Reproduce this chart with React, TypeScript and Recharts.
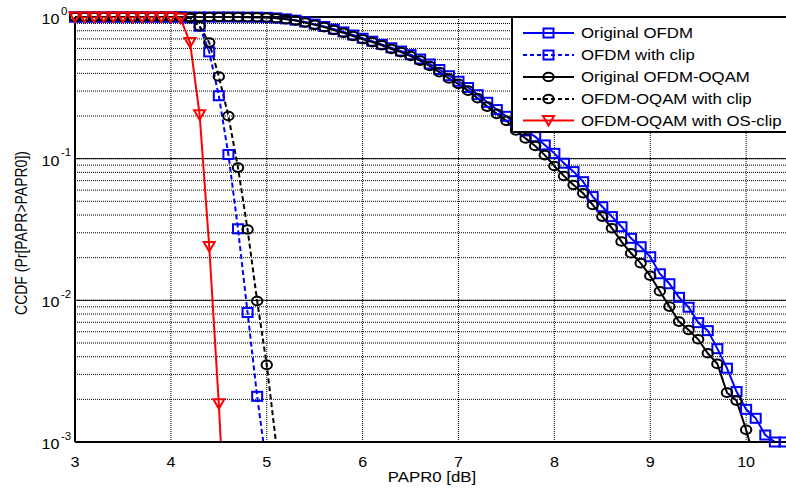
import React from 'react';
import { LineChart, Line, XAxis, YAxis, CartesianGrid, ReferenceLine } from 'recharts';

// PAPR0 grid in dB (0.1 dB steps)
const paprDb = [
  3.0, 3.1, 3.2, 3.3, 3.4, 3.5, 3.6, 3.7, 3.8, 3.9,
  4.0, 4.1, 4.2, 4.3, 4.4, 4.5, 4.6, 4.7, 4.8, 4.9,
  5.0, 5.1, 5.2, 5.3, 5.4, 5.5, 5.6, 5.7, 5.8, 5.9,
  6.0, 6.1, 6.2, 6.3, 6.4, 6.5, 6.6, 6.7, 6.8, 6.9,
  7.0, 7.1, 7.2, 7.3, 7.4, 7.5, 7.6, 7.7, 7.8, 7.9,
  8.0, 8.1, 8.2, 8.3, 8.4, 8.5, 8.6, 8.7, 8.8, 8.9,
  9.0, 9.1, 9.2, 9.3, 9.4, 9.5, 9.6, 9.7, 9.8, 9.9,
  10.0, 10.1, 10.2, 10.3, 10.4,
];

const originalOfdm = [
  1, 1, 1, 1, 1, 1, 1, 1, 1, 1,
  1, 1, 1, 1, 1, 1, 1, 0.999, 0.998, 0.997,
  0.994, 0.985, 0.97, 0.95, 0.922, 0.89, 0.857, 0.82, 0.785, 0.746,
  0.708, 0.675, 0.641, 0.606, 0.575, 0.542, 0.505, 0.466, 0.426, 0.385,
  0.352, 0.318, 0.283, 0.25, 0.222, 0.199, 0.174, 0.157, 0.143, 0.125,
  0.109, 0.0929, 0.081, 0.0688, 0.054, 0.0458, 0.039, 0.0331, 0.0274, 0.0239,
  0.0203, 0.0154, 0.0131, 0.0105, 0.00894, 0.00696, 0.00611, 0.00456, 0.00332, 0.00227,
  0.0017, 0.00147, 0.00112, 0.001, 0.001,
];

const ofdmClip = [
  1, 1, 1, 1, 1, 1, 1, 1, 1, 1,
  1, 1, 0.985, 0.86, 0.567, 0.278, 0.107, 0.032, 0.0082, 0.0021,
  0.00066,
];

const originalOqam = [
  1, 1, 1, 1, 1, 1, 1, 1, 1, 1,
  1, 1, 1, 1, 1, 1, 0.999, 0.998, 0.997, 0.995,
  0.992, 0.98, 0.965, 0.945, 0.915, 0.88, 0.848, 0.81, 0.775, 0.735,
  0.697, 0.665, 0.632, 0.595, 0.565, 0.53, 0.492, 0.451, 0.408, 0.368,
  0.337, 0.302, 0.267, 0.233, 0.207, 0.185, 0.158, 0.139, 0.123, 0.106,
  0.0888, 0.0755, 0.0652, 0.057, 0.0471, 0.039, 0.0323, 0.026, 0.0215, 0.0183,
  0.0149, 0.0116, 0.00903, 0.00708, 0.00618, 0.00531, 0.00423, 0.00356, 0.00223, 0.00196,
  0.00122, 0.0007,
];

const oqamClip = [
  1, 1, 1, 1, 1, 1, 1, 1, 1, 1,
  1, 1, 0.985, 0.86, 0.66, 0.38, 0.2, 0.0865, 0.0316, 0.0099,
  0.0035, 0.00095,
];

const oqamOsClip = [
  1, 1, 1, 1, 1, 1, 1, 1, 1, 1,
  1, 0.98, 0.66, 0.204, 0.024, 0.00186, 0.00009,
];

const xTicks = [3, 4, 5, 6, 7, 8, 9, 10];
const yTicks = [
  0.001, 0.002, 0.003, 0.004, 0.005, 0.006, 0.007, 0.008, 0.009,
  0.01, 0.02, 0.03, 0.04, 0.05, 0.06, 0.07, 0.08, 0.09,
  0.1, 0.2, 0.3, 0.4, 0.5, 0.6, 0.7, 0.8, 0.9, 1,
];
const decadeLabels: Record<string, string> = { '1': '0', '0.1': '-1', '0.01': '-2', '0.001': '-3' };

const FONT = '"Liberation Sans", Arial, sans-serif';
const BLUE = '#0000ff';
const RED = '#ff0000';
const BLACK = '#000000';

const toPoints = (vals: number[]) => vals.map((v, i) => ({ x: paprDb[i], y: v }));
const inRange = (pts: { x: number; y: number }[]) => pts.filter((p) => p.y >= 0.001 && p.y <= 1);

type Shape = 'square' | 'circle' | 'tri';

const Marker = ({ cx, cy, shape, color }: { cx: number; cy: number; shape: Shape; color: string }) => {
  if (shape === 'square') {
    return <rect x={cx - 5} y={cy - 4.5} width={10} height={9} fill="none" stroke={color} strokeWidth={2} />;
  }
  if (shape === 'circle') {
    return <ellipse cx={cx} cy={cy} rx={5.2} ry={4.3} fill="none" stroke={color} strokeWidth={2} />;
  }
  return (
    <polygon
      points={`${cx - 5.5},${cy - 4.5} ${cx + 5.5},${cy - 4.5} ${cx},${cy + 5}`}
      fill="none"
      stroke={color}
      strokeWidth={2}
    />
  );
};

const dotFn = (shape: Shape, color: string) => (props: any) => {
  const { cx, cy, index } = props;
  if (cx == null || cy == null) return <g key={`n${index}`} />;
  return <Marker key={`${shape}${index}`} cx={cx} cy={cy} shape={shape} color={color} />;
};

const series = [
  { name: 'Original OFDM', vals: originalOfdm, color: BLUE, dash: undefined, shape: 'square' as Shape },
  { name: 'OFDM with clip', vals: ofdmClip, color: BLUE, dash: '5 3', shape: 'square' as Shape },
  { name: 'Original OFDM-OQAM', vals: originalOqam, color: BLACK, dash: undefined, shape: 'circle' as Shape },
  { name: 'OFDM-OQAM with clip', vals: oqamClip, color: BLACK, dash: '5 3', shape: 'circle' as Shape },
  { name: 'OFDM-OQAM with OS-clip', vals: oqamOsClip, color: RED, dash: undefined, shape: 'tri' as Shape },
];

const XTick = (props: any) => {
  const { x, payload } = props;
  return (
    <text
      transform={`translate(${x}, 467) scale(1.15, 1)`}
      textAnchor="middle"
      fontFamily={FONT}
      fontSize={14}
      fill="#000"
    >
      {payload.value}
    </text>
  );
};

const YTick = (props: any) => {
  const { y, payload } = props;
  const exp = decadeLabels[String(payload.value)];
  if (exp === undefined) return <g />;
  return (
    <g>
      <text transform={`translate(59.5, ${y + 7}) scale(1.15, 1)`} textAnchor="end" fontFamily={FONT} fontSize={14} fill="#000">
        10
      </text>
      <text transform={`translate(61, ${y - 2.5}) scale(1.15, 1)`} textAnchor="start" fontFamily={FONT} fontSize={10} fill="#000">
        {exp}
      </text>
    </g>
  );
};

const LegendBox = () => {
  const rowY = [33, 55, 77, 99, 120.5];
  return (
    <svg width={786} height={488} style={{ position: 'absolute', left: 0, top: 0, pointerEvents: 'none' }}>
      <text
        transform="translate(27, 233) scale(1.2, 1) rotate(-90)"
        textAnchor="middle"
        fontFamily={FONT}
        fontSize={14}
        fill="#000"
      >
        CCDF (Pr[PAPR&gt;PAPR0])
      </text>
      <text transform="translate(432, 482) scale(1.2, 1)" textAnchor="middle" fontFamily={FONT} fontSize={14} fill="#000">
        PAPR0 [dB]
      </text>
      <rect x={512} y={17} width={300} height={115} fill="#fff" stroke="#000" strokeWidth={2} />
      {series.map((s, i) => (
        <g key={s.name}>
          <line
            x1={523}
            x2={574}
            y1={rowY[i]}
            y2={rowY[i]}
            stroke={s.color}
            strokeWidth={2}
            strokeDasharray={s.dash ? '4 3' : undefined}
          />
          <Marker cx={548.5} cy={rowY[i]} shape={s.shape} color={s.color} />
          <text
            transform={`translate(581, ${rowY[i] + 5}) scale(1.2, 1)`}
            fontFamily={FONT}
            fontSize={14}
            fill="#000"
          >
            {s.name}
          </text>
        </g>
      ))}
    </svg>
  );
};

const App: React.FC = () => {
  return (
    <div style={{ position: 'absolute', left: 0, top: 0, width: 786, height: 488, overflow: 'hidden', background: '#fff' }}>
      <LineChart width={860} height={488} margin={{ top: 17, right: 18, bottom: 0, left: 0 }}>
        <CartesianGrid stroke="#000" strokeDasharray="1 1" strokeWidth={1} />
        <XAxis
          type="number"
          dataKey="x"
          domain={[3, 11]}
          ticks={xTicks}
          interval={0}
          height={46}
          tickLine={false}
          axisLine={{ stroke: '#000', strokeWidth: 2 }}
          tick={<XTick />}
        />
        <YAxis
          type="number"
          scale="log"
          domain={[0.001, 1]}
          allowDataOverflow
          ticks={yTicks}
          interval={0}
          width={75}
          tickLine={false}
          axisLine={{ stroke: '#000', strokeWidth: 2 }}
          tick={<YTick />}
        />
        <YAxis yAxisId="m" type="number" scale="log" domain={[0.001, 1]} hide />
        <ReferenceLine y={0.1} stroke="#000" strokeWidth={1} />
        <ReferenceLine y={0.01} stroke="#000" strokeWidth={1} />
        <ReferenceLine y={1} stroke="#000" strokeWidth={2} />
        {series.map((s) => [
          <Line
            key={`${s.name}-line`}
            data={toPoints(s.vals)}
            dataKey="y"
            type="linear"
            stroke={s.color}
            strokeWidth={2}
            strokeDasharray={s.dash}
            dot={false}
            activeDot={false}
            isAnimationActive={false}
          />,
          <Line
            key={`${s.name}-marks`}
            yAxisId="m"
            data={inRange(toPoints(s.vals))}
            dataKey="y"
            type="linear"
            stroke="none"
            dot={dotFn(s.shape, s.color)}
            activeDot={false}
            isAnimationActive={false}
          />,
        ])}
      </LineChart>
      <LegendBox />
    </div>
  );
};

export default App;
